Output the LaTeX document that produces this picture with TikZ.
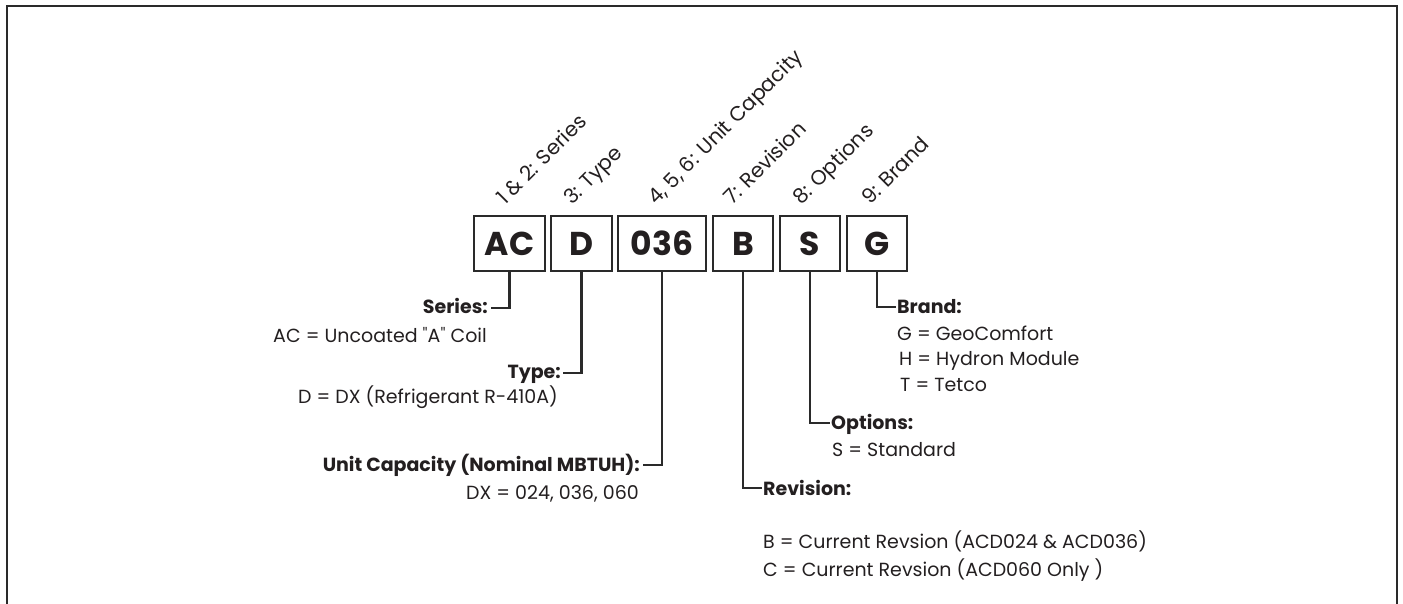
\documentclass[tikz,border=0pt]{standalone}
\usepackage{fontspec}
\setmainfont{Poppins}
\newfontfamily\lightface{Poppins Light}
\newcommand{\dq}{{\lightface\symbol{34}}}
\definecolor{ink}{HTML}{231F20}
\definecolor{rule}{HTML}{2A2A2A}
\begin{document}
\begin{tikzpicture}[x=1pt,y=-1pt,
  codebox/.style={draw=rule,line width=2.6pt,minimum height=55pt,inner sep=0pt,
    font=\fontsize{33}{36}\selectfont\bfseries,text=ink},
  slotlabel/.style={rotate=45,anchor=base west,inner sep=0pt,
    font=\fontsize{20.5}{24}\selectfont,text=ink},
  head/.style={inner sep=0pt,font=\fontsize{19}{22}\selectfont\bfseries,text=ink},
  body/.style={inner sep=0pt,font=\fontsize{19}{22}\selectfont,text=ink},
  lead/.style={draw=rule,line width=2.6pt}]
\useasboundingbox (0,0) rectangle (1403,603);
% outer frame, open at the bottom
\draw[rule,line width=2pt] (7,610) -- (7,6) -- (1397,6) -- (1397,610);

% code boxes
\node[codebox,minimum width=71pt] (ac)  at (509.5,243.5) {AC};
\node[codebox,minimum width=61pt] (d)   at (581.5,243.5) {D};
\node[codebox,minimum width=88pt] (cap) at (662,243.5)   {036};
\node[codebox,minimum width=60pt] (b)   at (743,243.5)   {B};
\node[codebox,minimum width=60pt] (s)   at (810,243.5)   {S};
\node[codebox,minimum width=60pt] (g)   at (877,243.5)   {G};

% position labels
\node[slotlabel] (pac)  at (505,206) {1 \& 2: Series};
\node[slotlabel] (pd)   at (572,206) {3: Type};
\node[slotlabel] (pcap) at (656,206) {4, 5, 6: Unit Capacity};
\node[slotlabel] (pb)   at (732,206) {7: Revision};
\node[slotlabel] (ps)   at (801,206) {8: Options};
\node[slotlabel] (pg)   at (870,206) {9: Brand};

% left-hand descriptions
\node[head,anchor=base east] (serH) at (488,313) {Series:};
\node[body,anchor=base east] (serB) at (487,342) {AC = Uncoated \dq A\dq\ Coil};
\node[head,anchor=base east] (typH) at (561,378) {Type:};
\node[body,anchor=base east] (typB) at (558,403) {D = DX (Refrigerant R-410A)};
\node[head,anchor=base east] (capH) at (640,471) {Unit Capacity (Nominal MBTUH):};
\node[body,anchor=base east] (capB) at (639,499) {DX = 024, 036, 060};

% right-hand descriptions
\node[head,anchor=base west] (brH) at (897,313) {Brand:};
\node[body,anchor=base west] (brB1) at (897,340) {G = GeoComfort};
\node[body,anchor=base west] (brB2) at (899,365) {H = Hydron Module};
\node[body,anchor=base west] (brB3) at (900,391) {T = Tetco};
\node[head,anchor=base west] (opH) at (831,429) {Options:};
\node[body,anchor=base west] (opB) at (832,456) {S = Standard};
\node[head,anchor=base west] (rvH) at (763,495) {Revision:};
\node[body,anchor=base west] (rvB1) at (763,548) {B = Current Revsion (ACD024 \& ACD036)};
\node[body,anchor=base west] (rvB2) at (763,576) {C = Current Revsion (ACD060 Only )};

% leaders
\draw[lead] (ac.south)  |- ([xshift=3pt,yshift=5pt]serH.base east);
\draw[lead] (d.south)   |- ([xshift=2pt,yshift=5pt]typH.base east);
\draw[lead] (cap.south) |- ([xshift=3pt,yshift=6pt]capH.base east);
\draw[lead] (b.south)   |- ([xshift=-1pt,yshift=7pt]rvH.base west);
\draw[lead] (s.south)   |- ([xshift=-1pt,yshift=6pt]opH.base west);
\draw[lead] (g.south)   |- ([xshift=-1pt,yshift=6pt]brH.base west);
\end{tikzpicture}
\end{document}
